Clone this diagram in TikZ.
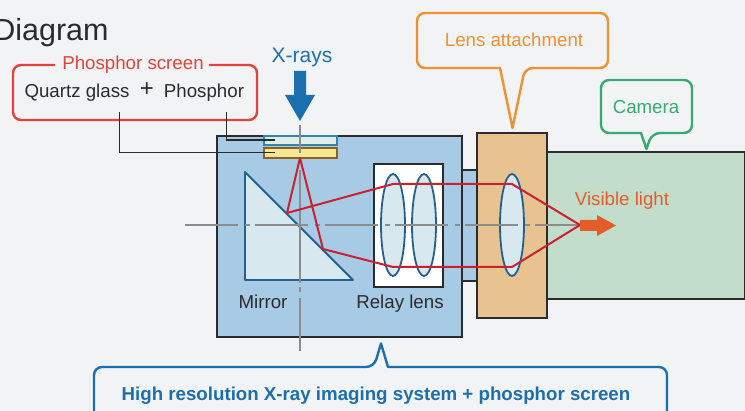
\documentclass[tikz,border=0pt]{standalone}
\usepackage{fontspec}
\usetikzlibrary{shapes.geometric}
\setmainfont{Liberation Sans}
\definecolor{pagegrey}{HTML}{F2F3F5}
\definecolor{housing}{HTML}{A8CBE5}
\definecolor{attachfill}{HTML}{E7C38F}
\definecolor{camerafill}{HTML}{C3DDCB}
\definecolor{glassfill}{HTML}{D8E8EF}
\definecolor{keyblue}{HTML}{1B6FAE}
\definecolor{lensblue}{HTML}{23608F}
\definecolor{keyred}{HTML}{E2443C}
\definecolor{rayred}{HTML}{CB2030}
\definecolor{keyorange}{HTML}{EF9130}
\definecolor{keygreen}{HTML}{35AA72}
\definecolor{lightorange}{HTML}{E35D2B}
\definecolor{inkgrey}{HTML}{2B2B2B}
\definecolor{quartzedge}{HTML}{2E86AE}
\definecolor{quartzfill}{HTML}{E0EDE6}
\definecolor{phosphoredge}{HTML}{8F5E2A}
\definecolor{phosphorfill}{HTML}{F5E88E}
\begin{document}
\begin{tikzpicture}
[x=1pt,y=-1pt,
  boxdecorate/.style={shape=rectangle,draw=inkgrey,line width=2pt,inner sep=0pt,outer sep=0pt},
  lensdecorate/.style={shape=ellipse,draw=lensblue,fill=glassfill,line width=1.8pt,inner sep=0pt,minimum width=24pt,minimum height=102pt},
  raydecorate/.style={draw=rayred,line width=2pt,line join=round},
  leaderdecorate/.style={draw=inkgrey,line width=1.3pt},
  balloondecorate/.style={line width=2.4pt,rounded corners=8pt,line join=round},
  labeldecorate/.style={inner sep=0pt,font=\fontsize{18.7}{20}\selectfont}]
\useasboundingbox[fill=pagegrey] (0,0) rectangle (745,411);
%% heading
\node (heading) at (51,33) [inner sep=0pt,text=inkgrey,font=\fontsize{30.5}{32}\selectfont] {Diagram};
%% boxes
\foreach \nodename/\x/\y/\w/\h/\tone in {
  camera/646/225.5/198/147/camerafill,
  mount/470/225.5/16/111/housing,
  attachment/512/225.5/70/185/attachfill,
  housingbox/339.5/236.5/245/201/housing,
  relaybox/408.5/225.5/69/123/white}
{
  \node (\nodename) at (\x,\y) [boxdecorate,fill=\tone,minimum width=\w pt,minimum height=\h pt] {};
}
%% screen layers
\node (quartz) at (300.5,140.5) [boxdecorate,draw=quartzedge,fill=quartzfill,minimum width=73pt,minimum height=9pt] {};
\node (phosphor) at (300.5,153) [boxdecorate,draw=phosphoredge,fill=phosphorfill,minimum width=73pt,minimum height=10pt] {};
%% mirror
\draw[draw=lensblue,fill=glassfill,line width=1.8pt,line join=round] (245,172) -- (245,280) -- (353,280) -- cycle;
%% lenses
\foreach \nodename/\x in {lensa/393, lensb/424, lensc/512}
{
  \node (\nodename) at (\x,225) [lensdecorate] {};
}
%% axes
\coordinate (axisleft) at (185,225);
\coordinate (axisright) at (580,225);
\coordinate (axistop) at (300,125);
\coordinate (axisbottom) at (300,351);
\draw[draw=gray!90,line width=1.3pt,dash pattern=on 53pt off 7pt on 5pt off 5pt] (axisleft) -- (axisright);
\draw[draw=gray!90,line width=1.3pt,dash pattern=on 28pt off 17pt on 113pt off 4pt on 5pt off 6pt on 53pt off 9pt] (axistop) -- (axisbottom);
%% rays
\foreach \nodename/\x/\y in {apex/300/158, fold/287/213, upin/393/184, upout/512/184,
  focus/580/225, lowout/512/267, lowin/393/267, foldb/323/249}
{
  \coordinate (\nodename) at (\x,\y);
}
\draw[raydecorate] (apex) -- (fold) -- (upin) -- (upout) -- (focus) -- (lowout) -- (lowin) -- (foldb) -- cycle;
%% big arrows
\fill[keyblue] (294,71) -- (306,71) -- (306,95) -- (315,95) -- (300,121) -- (285,95) -- (294,95) -- cycle;
\fill[lightorange] (580,220) -- (597,220) -- (597,215) -- (616,225.5) -- (597,236) -- (597,231) -- (580,231) -- cycle;
%% balloons
\draw[balloondecorate,draw=keyred] (55,65) -- (13,65) -- (13,120) -- (257,120) -- (257,65) -- (209,65);
\draw[balloondecorate,draw=keyorange] (500,68) -- (417,68) -- (417,13) -- (608,13) -- (608,68) -- (525,68)
  [sharp corners] -- (512.5,128) -- cycle;
\draw[balloondecorate,draw=keygreen] (641,133) -- (601,133) -- (601,80) -- (692,80) -- (692,133) -- (652,133)
  [sharp corners] -- (646.5,149) -- cycle;
\draw[balloondecorate,draw=keyblue] (94,420) -- (94,367) -- (374,367) [sharp corners] -- (381,343.5) -- (388,367)
  [rounded corners=8pt] -- (667,367) -- (667,420);
%% labels
\foreach \nodename/\x/\y/\tone/\labeltext in {
  screenlabel/133/65/keyred/Phosphor screen,
  quartzlabel/77/92.5/inkgrey/Quartz glass,
  phosphorlabel/204/92.5/inkgrey/Phosphor,
  mirrorlabel/263/302/inkgrey/Mirror,
  relaylabel/400/303.5/inkgrey/Relay lens,
  attachlabel/514/39.5/keyorange/Lens attachment,
  cameralabel/646/107.5/keygreen/Camera,
  lightlabel/622/201/lightorange/Visible light}
{
  \node (\nodename) at (\x,\y) [labeldecorate,text=\tone] {\labeltext};
}
\node (pluslabel) at (147,90) [labeldecorate,text=inkgrey,font=\fontsize{24}{26}\selectfont] {+};
\node (xrayslabel) at (302,57) [labeldecorate,text=keyblue,font=\fontsize{21}{23}\selectfont] {X-rays};
\node (systemlabel) at (376,396) [labeldecorate,text=keyblue,font=\fontsize{18.7}{20}\selectfont\bfseries] {High resolution X-ray imaging system + phosphor screen};
%% leaders
\coordinate (quartzfoot) at (119.5,112);
\coordinate (phosphorfoot) at (226.5,112);
\coordinate (quartzend) at (275,152.5);
\coordinate (phosphorend) at (275,140);
\draw[leaderdecorate] (quartzfoot) |- (quartzend);
\draw[leaderdecorate] (phosphorfoot) |- (phosphorend);
\end{tikzpicture}
\end{document}
